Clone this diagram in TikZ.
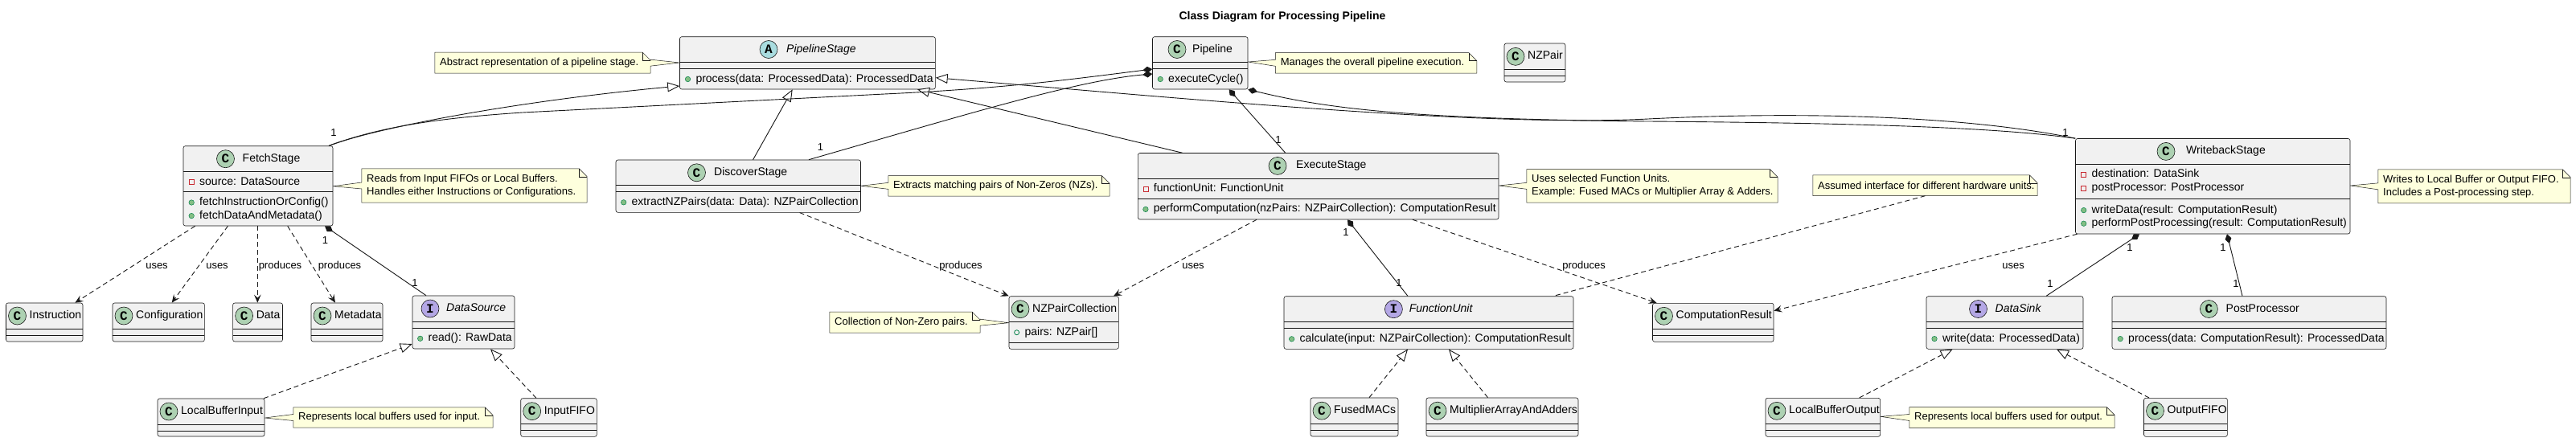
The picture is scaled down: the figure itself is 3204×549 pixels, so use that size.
\documentclass[tikz,border=0pt]{standalone}
\usepackage{fontspec}
\setmainfont{Liberation Sans}
\newfontfamily\monofnt{Liberation Mono}
\usetikzlibrary{arrows.meta,fit}
\pgfdeclarelayer{bg}
\pgfsetlayers{bg,main}
\definecolor{lc}{HTML}{181818}
\definecolor{boxfill}{HTML}{F1F1F1}
\definecolor{notefill}{HTML}{FEFFDD}
\definecolor{cC}{HTML}{ADD1B2}
\definecolor{cA}{HTML}{A9DCDF}
\definecolor{cI}{HTML}{B4A7E5}
\definecolor{privc}{HTML}{C82930}
\definecolor{pubfill}{HTML}{84BE84}
\definecolor{pubdraw}{HTML}{038048}
\tikzset{
 ucls/.style={draw=lc, fill=boxfill, line width=0.6pt, rounded corners=2.5pt, inner sep=0pt},
 usepl/.style={draw=lc, line width=0.6pt},
 uhc/.style={circle, draw=lc, line width=0.6pt, minimum size=22pt, inner sep=0pt, font=\monofnt\bfseries\fontsize{16pt}{16pt}\selectfont},
 ut14/.style={inner sep=0pt, font=\fontsize{14pt}{16pt}\selectfont, text height=10pt, text depth=3pt},
 upriv/.style={rectangle, draw=privc, line width=0.8pt, minimum size=6pt, inner sep=0pt},
 upubm/.style={circle, fill=pubfill, draw=pubdraw, line width=0.5pt, minimum size=6.5pt, inner sep=0pt},
 upubf/.style={circle, draw=pubdraw, line width=0.8pt, minimum size=6pt, inner sep=0pt},
 ulbl/.style={inner sep=0pt, font=\fontsize{13pt}{15pt}\selectfont, text height=9.5pt, text depth=2.5pt},
 unt/.style={inner sep=0pt, align=left, font=\fontsize{13pt}{15.7pt}\selectfont},
 unshape/.style={draw=lc, fill=notefill, line width=0.5pt},
 uconn/.style={draw=lc, line width=0.9pt},
 udsh/.style={dash pattern=on 6pt off 4pt},
 udep/.style={uconn, udsh, -{Stealth[length=10pt,width=8.5pt,inset=4pt]}},
 ureal/.style={uconn, udsh, -{Triangle[length=15pt,width=12pt,fill=white]}},
 ugen/.style={uconn, -{Triangle[length=15pt,width=12pt,fill=white]}},
 ucomp/.style={uconn, {Diamond[length=12pt,width=8pt]}-},
 unlink/.style={uconn, udsh},
}
\newcommand\ubox[5]{\node[ucls,fit={(#2,#3) (#4,#5)}] (#1) {};}
\newcommand\usepline[3]{\draw[usepl] (#1,#3) -- (#2,#3);}
\newcommand\uhead[7]{\node[uhc,fill=#3] (#1-c) at ({#4},{#5}) {#2};\node[ut14,anchor=west] (#1-n) at ({#6},{#5}) {#7};}
\newcommand\umem[5]{\node[#2] (#1-i) at ({#3-9.8},{#4}) {};\node[ut14,anchor=west] (#1) at ({#3},{#4}) {#5};}
\newcommand\usimple[8]{\ubox{#1}{#2}{#3}{#4}{#5}\usepline{#2}{#4}{#6}\usepline{#2}{#4}{#7}\uhead{#1}{C}{cC}{#2+14}{(#3+#6)/2}{#2+29}{#8}}
\newcommand\unote[6]{\node[inner sep=0pt, fit={(#2,#3) (#4,#5)}] (#1) {};\node[unt, anchor=west] (#1-t) at ({#2+6},{(#3+#5)/2}) {#6};}
\newcommand\ufold[1]{\draw[unshape, fill=none] ([xshift=-10pt]#1.north east) -- ([xshift=-10pt,yshift=-10pt]#1.north east) -- ([yshift=-10pt]#1.north east);}
\newcommand\noteshL[2]{\filldraw[unshape] (#1.north west) -- ([xshift=-10pt]#1.north east) -- ([yshift=-10pt]#1.north east) -- (#1.south east) -- (#1.south west) -- ([yshift=-4pt]#1.west) -- (#2) -- ([yshift=4pt]#1.west) -- cycle; \ufold{#1}}
\newcommand\noteshR[2]{\filldraw[unshape] (#1.north west) -- ([xshift=-10pt]#1.north east) -- ([yshift=-10pt]#1.north east) -- ([yshift=4pt]#1.east) -- (#2) -- ([yshift=-4pt]#1.east) -- (#1.south east) -- (#1.south west) -- cycle; \ufold{#1}}
\newcommand\noteshN[1]{\filldraw[unshape] (#1.north west) -- ([xshift=-10pt]#1.north east) -- ([yshift=-10pt]#1.north east) -- (#1.south east) -- (#1.south west) -- cycle; \ufold{#1}}
\begin{document}
\begin{tikzpicture}[x=1pt,y=-1pt]
\useasboundingbox (0,0) rectangle (3204,549);
\begin{pgfonlayer}{bg}\fill[white] (0,0) rectangle (3204,549);\end{pgfonlayer}
% title
\node[inner sep=0pt, anchor=base, font=\bfseries\fontsize{14pt}{16pt}\selectfont] (title) at (1595,24) {Class Diagram for Processing Pipeline};
% PipelineStage
\ubox{pstage}{845.5}{45.7}{1163.4}{111}
\usepline{845.5}{1163.4}{77.3}\usepline{845.5}{1163.4}{85.3}
\uhead{pstage}{A}{cA}{956}{61.5}{978}{\itshape PipelineStage}
\umem{pstage-m1}{upubm}{865.3}{98.5}{process(data: ProcessedData): ProcessedData}
% Pipeline
\ubox{pipe}{1433.5}{45.7}{1552}{111}
\usepline{1433.5}{1552}{77.3}\usepline{1433.5}{1552}{85.3}
\uhead{pipe}{C}{cC}{1464}{61.5}{1483}{Pipeline}
\umem{pipe-m1}{upubm}{1453}{98.5}{executeCycle()}
% NZPair
\usimple{nzpair}{1871}{54}{1947}{102}{86.7}{94}{NZPair}
% FetchStage
\ubox{fetch}{228}{181.7}{414}{281}
\usepline{228}{414}{213.7}\usepline{228}{414}{238.7}
\uhead{fetch}{C}{cC}{280.5}{197.7}{301.5}{FetchStage}
\umem{fetch-a1}{upriv}{248}{226.6}{source: DataSource}
\umem{fetch-m1}{upubm}{248}{252}{fetchInstructionOrConfig()}
\umem{fetch-m2}{upubm}{248}{268.6}{fetchDataAndMetadata()}
% DiscoverStage
\ubox{discover}{766}{199}{1070.5}{264.3}
\usepline{766}{1070.5}{230.7}\usepline{766}{1070.5}{238.7}
\uhead{discover}{C}{cC}{866.5}{214.8}{888}{DiscoverStage}
\umem{discover-m1}{upubm}{785.5}{251.8}{extractNZPairs(data: Data): NZPairCollection}
% ExecuteStage
\ubox{exec}{1415.3}{190.5}{1864}{273}
\usepline{1415.3}{1864}{222.3}\usepline{1415.3}{1864}{247.3}
\uhead{exec}{C}{cC}{1589}{206.4}{1612}{ExecuteStage}
\umem{exec-a1}{upriv}{1434.7}{235.2}{functionUnit: FunctionUnit}
\umem{exec-m1}{upubm}{1434.7}{260.4}{performComputation(nzPairs: NZPairCollection): ComputationResult}
% WritebackStage
\ubox{wb}{2581.5}{172.5}{2923}{291}
\usepline{2581.5}{2923}{204.3}\usepline{2581.5}{2923}{247.3}
\uhead{wb}{C}{cC}{2694}{188.4}{2719}{WritebackStage}
\umem{wb-a1}{upriv}{2601.5}{217.3}{destination: DataSink}
\umem{wb-a2}{upriv}{2601.5}{234}{postProcessor: PostProcessor}
\umem{wb-m1}{upubm}{2601.5}{261.6}{writeData(result: ComputationResult)}
\umem{wb-m2}{upubm}{2601.5}{278.2}{performPostProcessing(result: ComputationResult)}
% simple classes row 2/3
\usimple{instr}{7.5}{377}{103}{425}{409}{417}{Instruction}
\usimple{config}{140}{377}{254.4}{425}{409}{417}{Configuration}
\usimple{data}{289.6}{377}{351.5}{425}{409}{417}{Data}
\usimple{meta}{387}{377}{476}{425}{409}{417}{Metadata}
\usimple{lbi}{196}{496}{329}{543}{528}{536}{LocalBufferInput}
\usimple{ififo}{647.7}{495.7}{742.3}{543.3}{527.7}{535.7}{InputFIFO}
\usimple{fused}{1630}{495}{1739}{543}{527.3}{535.3}{FusedMACs}
\usimple{mult}{1774}{495}{1963}{543}{527.3}{535.3}{MultiplierArrayAndAdders}
\usimple{compres}{2055.5}{377.3}{2206}{425.3}{409.3}{417.3}{ComputationResult}
\usimple{lbo}{2196}{495.3}{2338.6}{543.3}{527.3}{535.3}{LocalBufferOutput}
\usimple{ofifo}{2666.5}{495.3}{2770.4}{543.3}{527.3}{535.3}{OutputFIFO}
% DataSource
\ubox{ds}{513}{368}{640}{434}
\usepline{513}{640}{400}\usepline{513}{640}{408}
\uhead{ds}{I}{cI}{535}{384}{555}{\itshape DataSource}
\umem{ds-m1}{upubm}{532.5}{421.3}{read(): RawData}
% NZPairCollection
\ubox{nzpc}{1255}{368.7}{1391.4}{434.3}
\usepline{1255}{1391.4}{400.7}\usepline{1255}{1391.4}{426.7}
\uhead{nzpc}{C}{cC}{1269}{384.7}{1284}{NZPairCollection}
\umem{nzpc-a1}{upubf}{1274.4}{413.7}{pairs: NZPair[]}
% FunctionUnit
\ubox{fu}{1597}{368.7}{1957}{434.3}
\usepline{1597}{1957}{400.7}\usepline{1597}{1957}{408.7}
\uhead{fu}{I}{cI}{1733.4}{384.7}{1752.6}{\itshape FunctionUnit}
\umem{fu-m1}{upubm}{1616.4}{421.8}{calculate(input: NZPairCollection): ComputationResult}
% DataSink
\ubox{dsink}{2396}{368.7}{2591}{434.3}
\usepline{2396}{2591}{400.3}\usepline{2396}{2591}{408.3}
\uhead{dsink}{I}{cI}{2460.5}{384.5}{2481.5}{\itshape DataSink}
\umem{dsink-m1}{upubm}{2415.8}{421.6}{write(data: ProcessedData)}
% PostProcessor
\ubox{pp}{2627}{368.7}{2968}{434.3}
\usepline{2627}{2968}{400.3}\usepline{2627}{2968}{408.3}
\uhead{pp}{C}{cC}{2747.4}{384.5}{2768.5}{PostProcessor}
\umem{pp-m1}{upubm}{2647}{421.6}{process(data: ComputationResult): ProcessedData}
% notes
\unote{n1}{541}{65.3}{809}{91}{Abstract representation of a pipeline stage.}
\unote{n2}{1586.6}{65.7}{1836.6}{91}{Manages the overall pipeline execution.}
\unote{n3}{450}{210}{730}{252}{Reads from Input FIFOs or Local Buffers.\\Handles either Instructions or Configurations.}
\unote{n4}{1105}{218.7}{1380}{244}{Extracts matching pairs of Non-Zeros (NZs).}
\unote{n5}{1899}{210.7}{2211}{252}{Uses selected Function Units.\\Example: Fused MACs or Multiplier Array \& Adders.}
\unote{n6}{2255}{218}{2534}{243.5}{Assumed interface for different hardware units.}
\unote{n7}{2958}{211}{3197}{252.7}{Writes to Local Buffer or Output FIFO.\\Includes a Post-processing step.}
\unote{n8}{1032}{388.3}{1219}{414}{Collection of Non-Zero pairs.}
\unote{n9}{365}{507}{613}{532}{Represents local buffers used for input.}
\unote{n10}{2375}{506.7}{2630}{532.3}{Represents local buffers used for output.}
\begin{pgfonlayer}{bg}
\noteshR{n1}{pstage.west |- 0,78}
\noteshL{n2}{pipe.east |- 0,77}
\noteshL{n3}{fetch.east |- 0,231.7}
\noteshL{n4}{discover.east |- 0,231.3}
\noteshL{n5}{exec.east |- 0,231}
\noteshN{n6}
\noteshL{n7}{wb.east |- 0,231}
\noteshR{n8}{nzpc.west |- 0,401.7}
\noteshL{n9}{lbi.east |- 0,520}
\noteshL{n10}{lbo.east |- 0,518.3}
\end{pgfonlayer}
% dependencies
\draw[udep] (fetch.south -| 242.7,0) -- (instr.north -| 93.4,0);
\draw[udep] (fetch.south -| 283.4,0) -- (config.north -| 213.7,0);
\draw[udep] (fetch.south -| 320.3,0) -- (data.north -| 320.3,0);
\draw[udep] (fetch.south -| 357.7,0) -- (meta.north -| 417,0);
\draw[udep] (discover.south -| 994.6,0) -- (nzpc.north west);
\draw[udep] (exec.south -| 1563,0) -- (nzpc.north -| 1385,0);
\draw[udep] (exec.south -| 1757,0) -- (compres.north -| 2060.6,0);
\draw[udep] (wb.south -| 2583.5,0) -- (compres.east |- 0,386.7);
\node[ulbl] (d1l) at (195,331) {uses};
\node[ulbl] (d2l) at (270,331) {uses};
\node[ulbl] (d3l) at (348.5,331) {produces};
\node[ulbl] (d4l) at (422.5,331) {produces};
\node[ulbl] (d5l) at (1195,331) {produces};
\node[ulbl] (d6l) at (1484,331) {uses};
\node[ulbl] (d7l) at (1970,331) {produces};
\node[ulbl] (d8l) at (2504,331) {uses};
% realizations
\draw[ureal] (lbi.north -| 328,0) -- (ds.west |- 0,428);
\draw[ureal] (ififo.north -| 667,0) -- (ds.south -| 610,0);
\draw[ureal] (fused.north -| 1703,0) -- (fu.south -| 1751,0);
\draw[ureal] (mult.north -| 1850.5,0) -- (fu.south -| 1802,0);
\draw[ureal] (lbo.north -| 2312.5,0) -- (dsink.south -| 2428.6,0);
\draw[ureal] (ofifo.north -| 2673,0) -- (dsink.south -| 2558,0);
% generalizations
\draw[ugen] (fetch.north -| 409,0) .. controls (470,158) and (650,125) .. (pstage.west |- 0,107);
\draw[ugen] (discover.north -| 936.6,0) -- (pstage.south -| 985.7,0);
\draw[ugen] (exec.north -| 1470.5,0) -- (pstage.south -| 1141,0);
\draw[ugen] (wb.north west) .. controls (2450,145) and (2250,138) .. (2050,148) .. controls (1850,158) and (1500,125) .. (pstage.east |- 0,96.7);
% compositions
\draw[ucomp] (pipe.west |- 0,86) .. controls (1330,99) and (1250,110) .. (1100,117) -- (650,140) .. controls (560,146) and (480,155) .. (fetch.north -| 409,0);
\draw[ucomp] (pipe.west |- 0,92) .. controls (1340,100) and (1200,143) .. (discover.north -| 1006,0);
\draw[ucomp] (pipe.south -| 1528.6,0) -- (exec.north -| 1598.7,0);
\draw[ucomp] (pipe.south east) .. controls (1650,135) and (1750,148) .. (2050,151) .. controls (2300,153) and (2480,158) .. (wb.north west);
\draw[ucomp] (fetch.south -| 404,0) -- (ds.north -| 530,0);
\draw[ucomp] (exec.south -| 1676,0) -- (fu.north -| 1751,0);
\draw[ucomp] (wb.south -| 2661,0) -- (dsink.north -| 2545,0);
\draw[ucomp] (wb.south -| 2770,0) -- (pp.north -| 2789,0);
% note link
\draw[unlink] (n6.south) -- (fu.north -| 1932,0);
% multiplicities
\node[ulbl] (m1) at (415,166) {1};
\node[ulbl] (m2) at (1020.5,184) {1};
\node[ulbl] (m3) at (1590,175) {1};
\node[ulbl] (m4) at (2569,166) {1};
\node[ulbl] (m5) at (404.5,300) {1};
\node[ulbl] (m6) at (516,353) {1};
\node[ulbl] (m7) at (1674,290) {1};
\node[ulbl] (m8) at (1740,353) {1};
\node[ulbl] (m9) at (2649,309) {1};
\node[ulbl] (m10) at (2550,354) {1};
\node[ulbl] (m11) at (2765,309) {1};
\node[ulbl] (m12) at (2781,354) {1};
\end{tikzpicture}
\end{document}
